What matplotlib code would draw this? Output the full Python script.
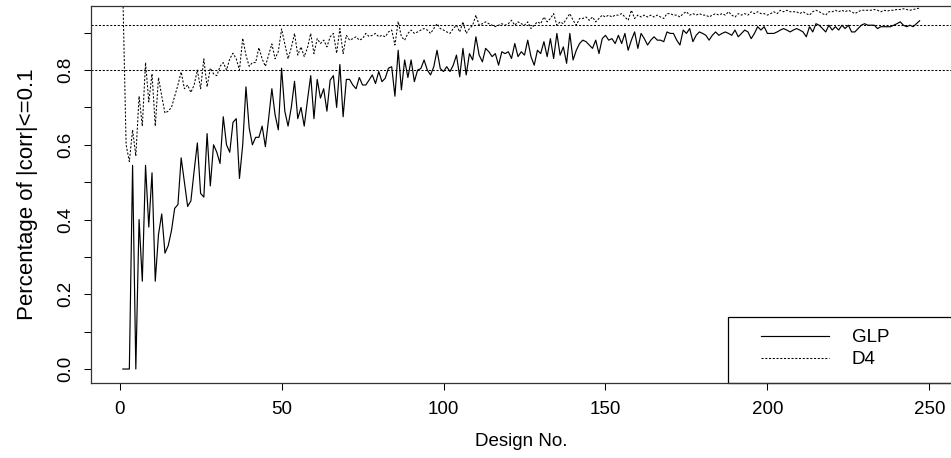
import matplotlib
matplotlib.use("Agg")
import matplotlib.pyplot as plt
from matplotlib.patches import Rectangle
import numpy as np

plt.rcParams['font.family'] = ['Liberation Sans', 'DejaVu Sans']

glp = [
    0, 0, 0, 0.545, 0, 0.40, 0.235, 0.545, 0.38, 0.525,
    0.235, 0.36, 0.415, 0.31, 0.33, 0.37, 0.43, 0.44, 0.565, 0.50,
    0.435, 0.45, 0.53, 0.605, 0.47, 0.46, 0.63, 0.49, 0.60, 0.58,
    0.55, 0.675, 0.60, 0.58, 0.66, 0.67, 0.51, 0.60, 0.755, 0.645,
    0.60, 0.62, 0.62, 0.65, 0.595, 0.67, 0.75, 0.68, 0.64, 0.805,
    0.69, 0.65, 0.70, 0.77, 0.67, 0.70, 0.65, 0.72, 0.785, 0.67,
    0.775, 0.725, 0.75, 0.69, 0.773, 0.785, 0.70, 0.815, 0.675, 0.775,
    0.775, 0.76, 0.75, 0.78, 0.76, 0.76, 0.773, 0.787, 0.764, 0.796,
    0.769, 0.778, 0.805, 0.809, 0.73, 0.853, 0.747, 0.827, 0.78, 0.827,
    0.769, 0.80, 0.804, 0.827, 0.80, 0.787, 0.809, 0.853, 0.804, 0.796,
    0.809, 0.796, 0.813, 0.84, 0.782, 0.858, 0.787, 0.844, 0.827, 0.889,
    0.84, 0.822, 0.858, 0.849, 0.836, 0.844, 0.813, 0.849, 0.844, 0.849,
    0.831, 0.871, 0.836, 0.849, 0.84, 0.88, 0.836, 0.813, 0.853, 0.844,
    0.876, 0.836, 0.884, 0.831, 0.898, 0.84, 0.862, 0.818, 0.898, 0.827,
    0.853, 0.871, 0.88, 0.876, 0.867, 0.858, 0.88, 0.844, 0.884, 0.893,
    0.88, 0.884, 0.871, 0.893, 0.871, 0.898, 0.853, 0.88, 0.902, 0.858,
    0.898, 0.884, 0.867, 0.88, 0.889, 0.88, 0.88, 0.876, 0.902, 0.898,
    0.898, 0.88, 0.867, 0.907, 0.898, 0.911, 0.876, 0.893, 0.902, 0.898,
    0.893, 0.88, 0.893, 0.902, 0.893, 0.898, 0.902, 0.898, 0.893, 0.907,
    0.889, 0.898, 0.907, 0.902, 0.884, 0.898, 0.916, 0.907, 0.916, 0.898,
    0.898, 0.898, 0.902, 0.907, 0.911, 0.907, 0.902, 0.907, 0.911, 0.907,
    0.902, 0.889, 0.916, 0.902, 0.924, 0.92, 0.911, 0.902, 0.92, 0.907,
    0.916, 0.907, 0.92, 0.911, 0.92, 0.902, 0.902, 0.911, 0.92, 0.924,
    0.92, 0.92, 0.92, 0.911, 0.916, 0.916, 0.916, 0.916, 0.92, 0.924,
    0.929, 0.92, 0.916, 0.92, 0.916, 0.924, 0.932,
]

d4 = [
    1.0, 0.60, 0.555, 0.64, 0.57, 0.73, 0.65, 0.82, 0.715, 0.79,
    0.65, 0.78, 0.73, 0.685, 0.69, 0.70, 0.73, 0.76, 0.795, 0.75,
    0.76, 0.74, 0.76, 0.80, 0.75, 0.83, 0.755, 0.805, 0.79, 0.785,
    0.81, 0.82, 0.80, 0.83, 0.845, 0.83, 0.80, 0.885, 0.84, 0.81,
    0.82, 0.82, 0.86, 0.83, 0.81, 0.84, 0.87, 0.83, 0.85, 0.91,
    0.87, 0.83, 0.86, 0.898, 0.84, 0.862, 0.836, 0.86, 0.898, 0.844,
    0.884, 0.871, 0.88, 0.862, 0.889, 0.898, 0.845, 0.911, 0.844, 0.893,
    0.88, 0.884, 0.889, 0.88, 0.884, 0.898, 0.89, 0.893, 0.898, 0.889,
    0.893, 0.889, 0.902, 0.907, 0.867, 0.93, 0.889, 0.88, 0.898, 0.907,
    0.898, 0.902, 0.907, 0.911, 0.907, 0.898, 0.911, 0.924, 0.911, 0.907,
    0.902, 0.898, 0.911, 0.92, 0.902, 0.929, 0.898, 0.911, 0.92, 0.947,
    0.92, 0.924, 0.929, 0.924, 0.92, 0.916, 0.92, 0.924, 0.92, 0.924,
    0.933, 0.92, 0.929, 0.924, 0.92, 0.929, 0.911, 0.92, 0.929, 0.924,
    0.942, 0.929, 0.938, 0.951, 0.92, 0.929, 0.924, 0.938, 0.951, 0.933,
    0.92, 0.938, 0.938, 0.942, 0.933, 0.942, 0.929, 0.938, 0.947, 0.942,
    0.947, 0.942, 0.947, 0.947, 0.951, 0.942, 0.933, 0.96, 0.938, 0.947,
    0.942, 0.947, 0.942, 0.947, 0.942, 0.947, 0.942, 0.938, 0.951, 0.951,
    0.947, 0.947, 0.942, 0.951, 0.956, 0.947, 0.951, 0.947, 0.951, 0.947,
    0.947, 0.942, 0.947, 0.951, 0.947, 0.951, 0.947, 0.956, 0.947, 0.942,
    0.951, 0.947, 0.951, 0.947, 0.956, 0.951, 0.956, 0.951, 0.951, 0.947,
    0.951, 0.956, 0.951, 0.96, 0.956, 0.96, 0.956, 0.956, 0.956, 0.951,
    0.956, 0.951, 0.947, 0.956, 0.96, 0.956, 0.951, 0.947, 0.956, 0.956,
    0.96, 0.956, 0.96, 0.956, 0.96, 0.956, 0.951, 0.956, 0.96, 0.96,
    0.96, 0.96, 0.962, 0.96, 0.956, 0.96, 0.958, 0.96, 0.96, 0.962,
    0.962, 0.964, 0.962, 0.96, 0.962, 0.964, 0.966,
]

assert len(glp) == 247 and len(d4) == 247
design = np.arange(1, len(glp) + 1)

ref_levels = [0.8, 0.92]
x_ticks = [0, 50, 100, 150, 200, 250]
y_ticks = [0.0, 0.1, 0.2, 0.3, 0.4, 0.5, 0.6, 0.7, 0.8, 0.9]
y_labels = ["0.0", "", "0.2", "", "0.4", "", "0.6", "", "0.8", ""]
series_names = ["GLP", "D4"]

W, H = 951, 458
fig = plt.figure(figsize=(W / 100, H / 100), dpi=100)
left, right, top, bottom = 91, 951.5, 6, 383
ax = fig.add_axes([left / W, (H - bottom) / H, (right - left) / W, (bottom - top) / H])

FS = 13.5
dots = (0, (2.0, 1.6))
ax.plot(design, glp, color='black', lw=0.85, label=series_names[0])
ax.plot(design, d4, color='black', lw=0.75, linestyle=dots, label=series_names[1])
for lv in ref_levels:
    ax.axhline(lv, color='black', lw=0.75, linestyle=dots)

ax.set_xlim(-8.84, 256.84)
ax.set_ylim(-0.0374, 0.9714)
ax.set_xticks(x_ticks)
ax.set_xticklabels([str(t) for t in x_ticks])
ax.set_yticks(y_ticks)
ax.set_yticklabels(y_labels, rotation=90, va='center')
ax.tick_params(axis='both', direction='out', length=5, width=0.75, labelsize=FS, color='black')
ax.tick_params(axis='x', pad=8)
ax.tick_params(axis='y', pad=7)
for s in ax.spines.values():
    s.set_linewidth(0.9)
    s.set_color('#333333')

ax.set_xlabel("Design No.", fontsize=FS, labelpad=11)
ax.set_ylabel("Percentage of |corr|<=0.1", fontsize=16, labelpad=14)

# legend frame and content
lx0 = (728 - left) / (right - left)
ly1 = (bottom - 317) / (bottom - top)
ax.add_patch(Rectangle((lx0, 0), 1.2 - lx0, ly1, transform=ax.transAxes,
                       fill=False, edgecolor='black', lw=0.9, clip_on=False))
leg = ax.legend(loc='upper left',
                bbox_to_anchor=((761 - left) / (right - left), (bottom - 329) / (bottom - top)),
                frameon=False, fontsize=FS, borderpad=0, borderaxespad=0,
                handlelength=3.65, handletextpad=1.2, labelspacing=0.27)

fig.savefig("out.png", dpi=100)
